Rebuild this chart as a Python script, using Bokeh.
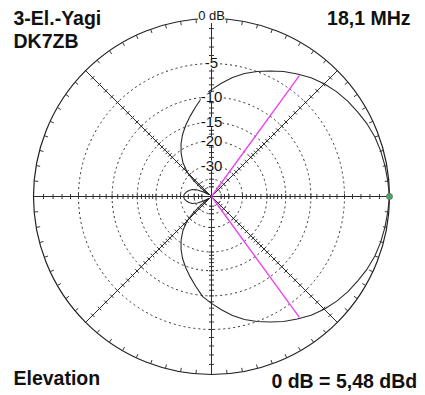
import numpy as np
from bokeh.plotting import figure
from bokeh.models import ColumnDataSource
from bokeh.core.properties import value
from bokeh.embed import file_html
from bokeh.resources import INLINE

# ---- data (angle in degrees CCW from right, dB rel. max) ----
angle_deg = [0, 5, 10, 15, 20, 25, 30, 35, 40, 45, 50, 55, 60, 65, 70, 75, 80, 85,
             90, 95, 100, 105, 110, 115, 120, 125, 130, 135, 138, 141, 145, 150,
             155, 160, 165, 170, 175, 180,
             185, 190, 195, 200, 205, 210, 215, 219, 222, 225, 230, 235, 240, 245,
             250, 255, 260, 265, 270, 275, 280, 285, 290, 295, 300, 305, 310, 315,
             320, 325, 330, 335, 340, 345, 350, 355, 360]
gain_db = [0.0, -0.1, -0.18, -0.27, -0.4, -0.62, -0.9, -1.17, -1.5, -1.9, -2.38, -3.0,
           -3.6, -4.3, -5.0, -5.75, -6.65, -7.7, -8.75, -9.8, -11.5, -13.1, -14.7,
           -16.4, -18.4, -20.8, -23.8, -28.2, -34.5, -45.0, -70.0, -52.0, -42.0,
           -37.0, -35.0, -33.3, -32.2, -31.8,
           -32.2, -33.3, -35.0, -37.0, -42.0, -52.0, -70.0, -45.0, -34.5, -28.2,
           -23.8, -20.8, -18.4, -16.4, -14.7, -13.1, -11.5, -9.8, -8.75, -7.7,
           -6.65, -5.75, -5.0, -4.3, -3.6, -3.0, -2.38, -1.9, -1.5, -1.17, -0.9,
           -0.62, -0.4, -0.27, -0.18, -0.1, 0.0]

ring_db = [0, -5, -10, -15, -20, -30, -40, -50]
ring_label_db = [0, -5, -10, -15, -20, -30]
ring_label_text = ["0 dB", "-5", "-10", "-15", "-20", "-30"]
axis_tick_db = [-1, -2, -3, -4, -5, -6, -7, -8, -9, -10, -11, -12, -13, -14, -15,
                -16, -17, -18, -19, -20, -22, -24, -26, -28, -30, -35, -40, -45, -50]
axis_angles = [0, 45, 90, 135]
rim_tick_angles = list(range(0, 360, 5))
beam_edge_angle = [54, -54]
beam_edge_db = [-3, -3]
max_angle = [0]
max_db = [0]

title_left = ["3-El.-Yagi", "DK7ZB"]
title_right = "18,1 MHz"
foot_left = "Elevation"
foot_right = "0 dB = 5,48 dBd"

# ---- ARRL log scale ----
R = 178.0


def rad(db):
    return R * 0.89 ** (-np.asarray(db, dtype=float) / 2.0)


def xy(ang, db):
    a = np.radians(np.asarray(ang, dtype=float))
    r = rad(db)
    return r * np.cos(a), r * np.sin(a)


p = figure(width=425, height=395, x_range=(-211, 214), y_range=(-199, 196),
           x_axis_type=None, y_axis_type=None, toolbar_location=None,
           output_backend="svg", min_border=0, background_fill_color="white",
           border_fill_color="white", outline_line_color=None)
p.grid.visible = False

FONT = value("Liberation Sans")
GRID = "#2e2e2e"

# dotted rings
inner = [d for d in ring_db if d != 0]
p.circle(x=[0] * len(inner), y=[0] * len(inner), radius=list(rad(inner)),
         fill_color=None, line_color=GRID, line_dash="2 3", line_width=1)
# outer circle
p.circle(x=[0], y=[0], radius=[float(rad(0))], fill_color=None,
         line_color="#222222", line_width=1.2)

# rim ticks
ra = np.radians(rim_tick_angles)
p.segment(x0=R * np.cos(ra), y0=R * np.sin(ra), x1=(R - 4) * np.cos(ra),
          y1=(R - 4) * np.sin(ra), line_color="#333333", line_width=1)

# axis lines
aa = np.radians(axis_angles)
p.segment(x0=R * np.cos(aa), y0=R * np.sin(aa), x1=-R * np.cos(aa),
          y1=-R * np.sin(aa), line_color="#2a2a2a", line_width=1)

# axis ticks
tx0, ty0, tx1, ty1 = [], [], [], []
for a in axis_angles:
    for d in (a, a + 180):
        t = np.radians(d)
        for db in axis_tick_db:
            r = float(rad(db))
            cx, cy = r * np.cos(t), r * np.sin(t)
            nx, ny = -np.sin(t) * 2.5, np.cos(t) * 2.5
            tx0.append(cx - nx); ty0.append(cy - ny)
            tx1.append(cx + nx); ty1.append(cy + ny)
p.segment(x0=tx0, y0=ty0, x1=tx1, y1=ty1, line_color="#333333", line_width=1)

# pattern
px, py = xy(angle_deg, gain_db)
p.line(px, py, line_color="#2b2b2b", line_width=1.1)

# -3 dB beam edge lines
bx, by = xy(beam_edge_angle, beam_edge_db)
p.segment(x0=[0, 0], y0=[0, 0], x1=bx, y1=by, line_color="#f03cf0", line_width=1.3)

# maximum marker
mx, my = xy(max_angle, max_db)
p.scatter(mx, my, size=6, fill_color="#3fae5a", line_color="#707070", line_width=1)

# ring labels (0 dB label sits just above the rim)
lx = [0.0] * len(ring_label_db)
ly = [float(v) + (3.0 if d == 0 else 0.0) for v, d in zip(rad(ring_label_db), ring_label_db)]
sizes = ["13px"] + ["15px"] * (len(ring_label_db) - 1)
src = ColumnDataSource(dict(x=lx, y=ly, t=ring_label_text, s=sizes))
p.text(x="x", y="y", text="t", source=src, text_font=FONT, text_font_size="s",
       text_align="center", text_baseline="middle", text_color="#111111",
       background_fill_color="white", background_fill_alpha=1.0)

# titles
BIG = "19.5px"
p.text(x=[-198, -198], y=[178.5, 155.5], text=title_left, text_font=FONT,
       text_font_size=BIG, text_font_style="bold", text_align="left",
       text_baseline="alphabetic", text_color="#111111")
p.text(x=[199], y=[179], text=[title_right], text_font=FONT,
       text_font_size=BIG, text_font_style="bold", text_align="right",
       text_baseline="alphabetic", text_color="#111111")
p.text(x=[-198], y=[-181], text=[foot_left], text_font=FONT,
       text_font_size=BIG, text_font_style="bold", text_align="left",
       text_baseline="alphabetic", text_color="#111111")
p.text(x=[205.7], y=[-184.5], text=[foot_right], text_font=FONT,
       text_font_size=BIG, text_font_style="bold", text_align="right",
       text_baseline="alphabetic", text_color="#111111")

open("out.html", "w").write(file_html(p, INLINE))
